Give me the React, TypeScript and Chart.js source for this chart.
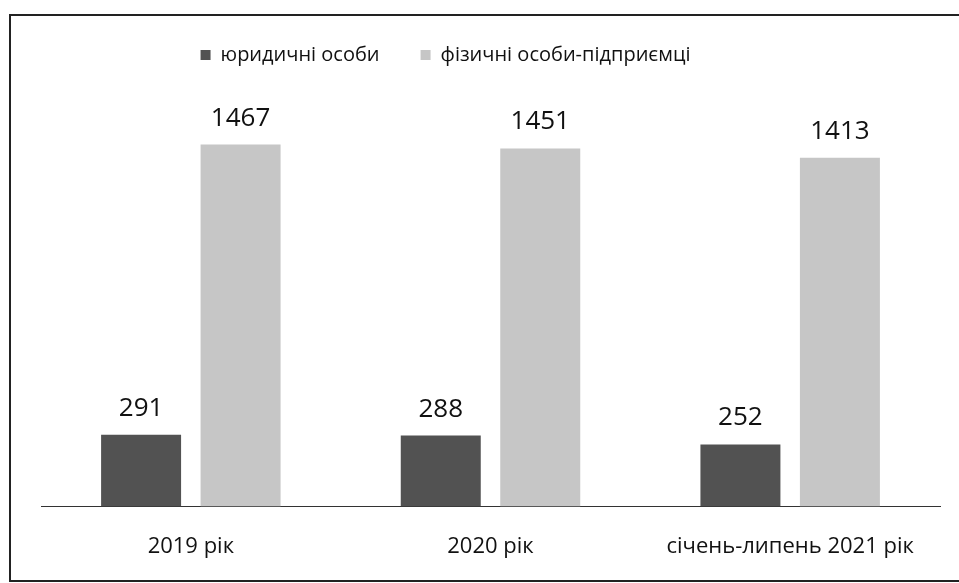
import React, { useEffect, useRef } from "react";
import { Chart, registerables } from "chart.js";

Chart.register(...registerables);

const categories = ["2019 рік", "2020 рік", "січень-липень 2021 рік"];
const legalEntities = [291, 288, 252];
const individualEntrepreneurs = [1467, 1451, 1413];
const seriesNames = ["юридичні особи", "фізичні особи-підприємці"];

const FONT = "'Open Sans', 'Noto Sans', 'DejaVu Sans', sans-serif";

const valueLabels = {
  id: "valueLabels",
  afterDatasetsDraw(chart: any) {
    const ctx = chart.ctx;
    ctx.save();
    ctx.font = `26px ${FONT}`;
    ctx.fillStyle = "#111";
    ctx.textAlign = "center";
    ctx.textBaseline = "alphabetic";
    chart.data.datasets.forEach((ds: any, i: number) => {
      const meta = chart.getDatasetMeta(i);
      meta.data.forEach((el: any, j: number) => {
        ctx.fillText(String(ds.data[j]), el.x, el.y - 19);
      });
    });
    ctx.restore();
  },
};

const legendShift = {
  id: "legendShift",
  afterLayout(chart: any) {
    const lg = chart.legend;
    if (!lg) return;
    lg.left -= 45;
    lg.right -= 45;
    lg.top -= 12;
    lg.bottom -= 12;
  },
};

export default function App() {
  const ref = useRef<HTMLCanvasElement>(null);
  useEffect(() => {
    if (!ref.current) return;
    const chart = new Chart(ref.current, {
      type: "bar",
      data: {
        labels: categories,
        datasets: [
          {
            label: seriesNames[0],
            data: legalEntities,
            backgroundColor: "#525252",
            barPercentage: 0.804,
            categoryPercentage: 0.664,
          },
          {
            label: seriesNames[1],
            data: individualEntrepreneurs,
            backgroundColor: "#c6c6c6",
            barPercentage: 0.804,
            categoryPercentage: 0.664,
          },
        ],
      },
      options: {
        animation: false,
        responsive: false,
        maintainAspectRatio: false,
        layout: { padding: { left: 30, right: 19, top: 0, bottom: 0 } },
        plugins: {
          legend: {
            position: "top",
            labels: {
              boxWidth: 10,
              boxHeight: 10,
              padding: 41,
              color: "#111",
              font: { family: FONT, size: 20 },
            },
          },
          tooltip: { enabled: false },
        },
        scales: {
          x: {
            grid: { display: false, drawTicks: false },
            border: { display: true, color: "#333", width: 1 },
            ticks: {
              color: "#111",
              padding: 27,
              maxRotation: 0,
              minRotation: 0,
              autoSkip: false,
              font: { family: FONT, size: 22 },
            },
          },
          y: {
            display: false,
            min: 0,
            max: 1700,
          },
        },
      },
      plugins: [valueLabels, legendShift],
    });
    return () => chart.destroy();
  }, []);

  return (
    <div
      style={{
        position: "fixed",
        left: 9,
        top: 14,
        width: 960,
        height: 564,
        overflow: "hidden",
        borderLeft: "2px solid #222",
        borderTop: "2px solid #222",
        borderBottom: "2px solid #222",
        background: "#fff",
      }}
    >
      <canvas ref={ref} width={948} height={571} style={{ display: "block" }} />
    </div>
  );
}
